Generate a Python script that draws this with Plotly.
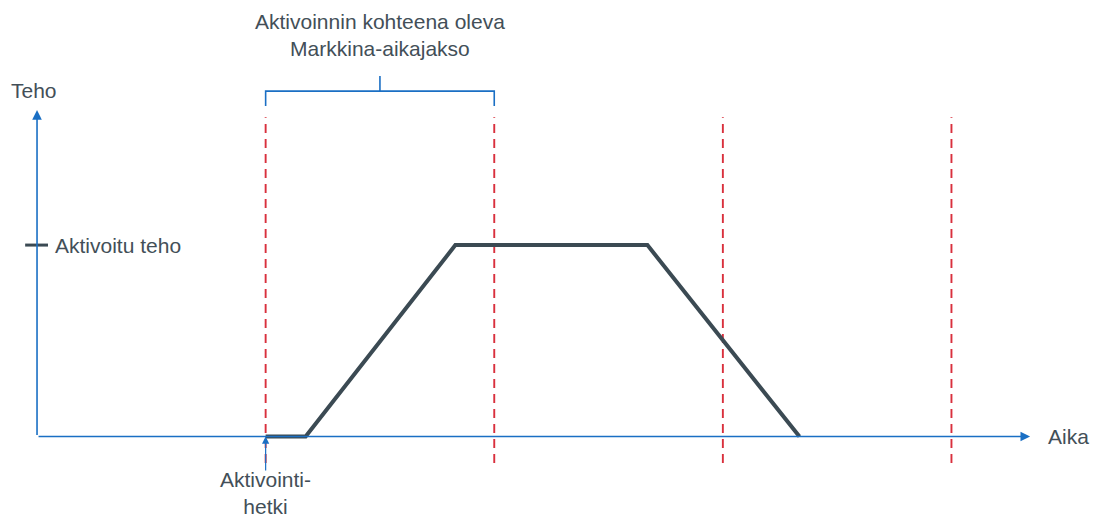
import plotly.graph_objects as go

# activated power curve (time in market periods, power relative to activated power)
time_pts = [1.0, 1.175, 1.83, 2.67, 3.335]
power_pts = [0, 0, 1, 1, 0]

# market period boundaries
boundaries = [1, 2, 3, 4]

x_axis_end = 4.344
y_axis_end = 1.705
dash_top = 1.668
dash_bottom = -0.138

BLUE = "#1a6fc4"
RED = "#d9303d"
DARK = "#3b4a53"
TEXT = "#434f58"
FONT = "Liberation Sans, Arial, sans-serif"

fig = go.Figure()

# red dashed period boundaries
for b in boundaries:
    fig.add_trace(go.Scatter(
        x=[b, b], y=[dash_bottom, dash_top], mode="lines",
        line=dict(color=RED, width=1.9, dash="9px,6px"),
        hoverinfo="skip", showlegend=False
    ))

# bracket over the first period
fig.add_trace(go.Scatter(
    x=[boundaries[0], boundaries[0], boundaries[1], boundaries[1]],
    y=[1.726, 1.804, 1.804, 1.726], mode="lines",
    line=dict(color=BLUE, width=1.6),
    hoverinfo="skip", showlegend=False
))
mid = (boundaries[0] + boundaries[1]) / 2
fig.add_trace(go.Scatter(
    x=[mid, mid], y=[1.804, 1.883], mode="lines",
    line=dict(color=BLUE, width=1.6),
    hoverinfo="skip", showlegend=False
))

# axes with arrows
fig.add_annotation(x=x_axis_end, y=0, ax=0, ay=0, xref="x", yref="y",
                   axref="x", ayref="y", showarrow=True, arrowhead=2,
                   arrowsize=1.2, arrowwidth=1.6, arrowcolor=BLUE, text="")
fig.add_annotation(x=0, y=y_axis_end, ax=0, ay=0, xref="x", yref="y",
                   axref="x", ayref="y", showarrow=True, arrowhead=2,
                   arrowsize=1.2, arrowwidth=1.6, arrowcolor=BLUE, text="")

# activation moment arrow
fig.add_annotation(x=boundaries[0], y=0, ax=boundaries[0], ay=-0.185,
                   xref="x", yref="y", axref="x", ayref="y", showarrow=True,
                   arrowhead=2, arrowsize=1.2, arrowwidth=1.2,
                   arrowcolor=BLUE, text="")

# activated power tick
fig.add_trace(go.Scatter(
    x=[-0.052, 0.048], y=[1, 1], mode="lines",
    line=dict(color=DARK, width=3),
    hoverinfo="skip", showlegend=False
))

# power curve
fig.add_trace(go.Scatter(
    x=time_pts, y=power_pts, mode="lines",
    line=dict(color=DARK, width=4),
    hoverinfo="skip", showlegend=False
))

labels = [
    dict(x=-0.013, y=1.809, text="Teho", xanchor="center"),
    dict(x=4.414, y=0, text="Aika", xanchor="left"),
    dict(x=0.07, y=1, text="Aktivoitu teho", xanchor="left"),
    dict(x=boundaries[0], y=-0.296, text="Aktivointi-<br>hetki", xanchor="center"),
    dict(x=mid, y=2.097, text="Aktivoinnin kohteena oleva<br>Markkina-aikajakso",
         xanchor="center"),
]
for lb in labels:
    fig.add_annotation(x=lb["x"], y=lb["y"], text=lb["text"], xref="x", yref="y",
                       xanchor=lb["xanchor"], yanchor="middle", showarrow=False,
                       font=dict(family=FONT, size=21, color=TEXT))

# page body has an 8px margin, so the figure covers page pixels 8..1098 / 8..517
fig.update_layout(
    width=1090, height=509,
    margin=dict(l=0, r=0, t=0, b=0),
    paper_bgcolor="white", plot_bgcolor="white",
    xaxis=dict(range=[-0.127, 4.641], visible=False, fixedrange=True),
    yaxis=dict(range=[-0.420, 2.238], visible=False, fixedrange=True),
    showlegend=False,
)

fig.write_html("out.html")
